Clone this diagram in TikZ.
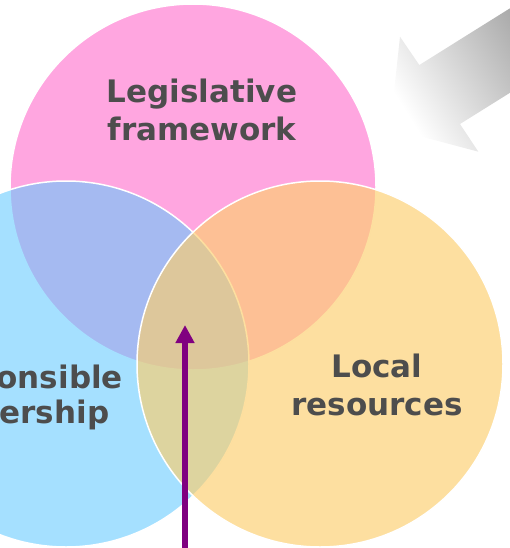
\documentclass[tikz,border=0pt]{standalone}
\usepackage{xcolor}
\usepackage{tikz}
\usepackage{fontspec}
\setmainfont{DejaVu Sans}
\usetikzlibrary{arrows.meta}
\definecolor{colpink}{RGB}{255,166,224}
\definecolor{colblue}{RGB}{100,202,255}
\definecolor{colorange}{RGB}{252,206,109}
\definecolor{coltext}{RGB}{77,77,77}
\definecolor{colpurple}{RGB}{128,0,128}
\tikzstyle{venn}=[draw=white,line width=1.5pt]
\tikzstyle{venn label}=[text=coltext,font=\fontsize{31}{38}\selectfont\bfseries,align=center,inner sep=0pt]

\begin{document}
\begin{tikzpicture}[x=1pt,y=1pt]
\useasboundingbox (0,-548) rectangle (510,0);
\clip (0,-548) rectangle (510,0);
% grey block arrow, top right
\shade[top color=black!42,bottom color=white,shading angle=-58]
  (390,-128.3) -- (400,-36.7) -- (419.3,-65) -- (570,29.2) -- (570,-55.3)
  -- (460,-124) -- (478.3,-151.7) -- cycle;
% the three circles
\filldraw[venn,fill=colpink] (193,-187) circle (183pt);
\filldraw[venn,fill=colblue,fill opacity=0.58] (66,-364) circle (183pt);
\filldraw[venn,fill=colorange,fill opacity=0.65] (320,-364) circle (183pt);
\node[venn label] (legis) at (202,-110) {Legislative\\framework};
\node[venn label] (local) at (377,-385) {Local\\resources};
\node[venn label,font=\fontsize{31}{35}\selectfont\bfseries] (resp) at (17,-397) {Responsible\\leadership};
% purple arrow into the middle
\coordinate (foot) at (185,-552);
\coordinate (tip) at (185,-325);
\draw[colpurple,line width=6pt,-{Triangle[length=18pt,width=18pt]}] (foot) -- (tip);
\end{tikzpicture}
\end{document}
